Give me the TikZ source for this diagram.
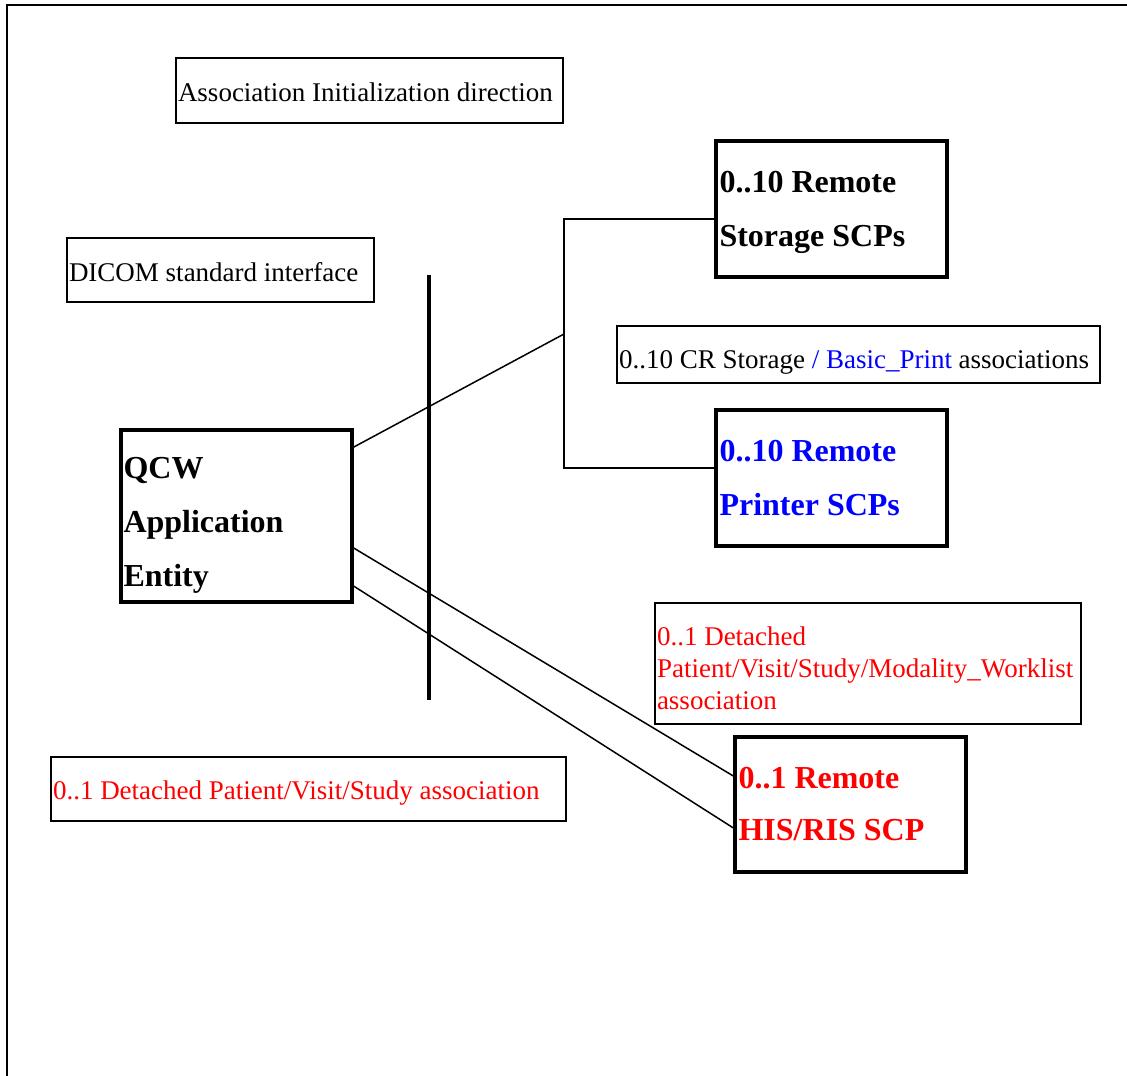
\documentclass[tikz,border=0pt]{standalone}
\usepackage{fontspec}
\setmainfont{Liberation Serif}
\definecolor{pureRed}{RGB}{255,0,0}
\definecolor{pureBlue}{RGB}{0,0,255}
\begin{document}
\begin{tikzpicture}[x=1pt,y=-1pt,
  thinbox/.style={draw, line width=1.5pt, inner sep=0pt, outer sep=0pt},
  thickbox/.style={draw, line width=4pt, inner sep=0pt, outer sep=0pt},
  smalltxt/.style={inner sep=0pt, outer sep=0pt, anchor=base west, align=left, font=\fontsize{27}{32}\selectfont},
  bigtxt/.style={inner sep=0pt, outer sep=0pt, anchor=base west, align=left, font=\fontsize{32}{54}\selectfont\bfseries},
  conn/.style={draw, line width=1.5pt},
  frameline/.style={draw, line width=2.4pt}]
\useasboundingbox (0,0) rectangle (1127,1076);

% outer frame
\coordinate (frTR) at (1127,5);
\coordinate (frTL) at (7,5);
\coordinate (frBL) at (7,1076);
\draw[frameline] (frTR) -- (frTL) -- (frBL);

% label boxes
\node[thinbox, minimum width=387pt, minimum height=65pt] (assocbox) at (369.5,90.5) {};
\node[smalltxt] (assoctext) at (178,101.5) {Association Initialization direction};

\node[thinbox, minimum width=307pt, minimum height=64pt] (dicombox) at (220.5,270) {};
\node[smalltxt] (dicomtext) at (69,281) {DICOM standard interface};

\node[thinbox, minimum width=483pt, minimum height=57pt] (crbox) at (858.5,354.5) {};
\node[smalltxt] (crtext) at (619,368) {0..10 CR Storage \textcolor{pureBlue}{/ Basic\_Print} associations};

\node[thinbox, minimum width=426pt, minimum height=121pt] (mwlbox) at (868,663.5) {};
\node[smalltxt, text=pureRed] (mwltext) at (657,709.3) {0..1 Detached\\Patient/Visit/Study/Modality\_Worklist\\association};

\node[thinbox, minimum width=515pt, minimum height=64pt] (pvsbox) at (308.5,789) {};
\node[smalltxt, text=pureRed] (pvstext) at (53,799.3) {0..1 Detached Patient/Visit/Study association};

% main entity boxes
\node[thickbox, minimum width=231pt, minimum height=172pt] (qcw) at (236.5,516) {};
\node[bigtxt] (qcwtext) at (123.5,586.7) {QCW\\Application\\Entity};

\node[thickbox, minimum width=231pt, minimum height=136pt] (store) at (831.5,209) {};
\node[bigtxt] (storetext) at (719.5,246) {0..10 Remote\\Storage SCPs};

\node[thickbox, minimum width=231pt, minimum height=136pt] (printer) at (831.5,478) {};
\node[bigtxt, text=pureBlue] (printertext) at (719.5,515) {0..10 Remote\\Printer SCPs};

\node[thickbox, minimum width=231pt, minimum height=135pt] (his) at (850.5,804.5) {};
\node[bigtxt, text=pureRed, font=\fontsize{32}{52}\selectfont\bfseries] (histext) at (738.5,840) {0..1 Remote\\HIS/RIS SCP};

% DICOM interface line
\coordinate (ifTop) at (429,275);
\coordinate (ifBot) at (429,700);
\draw[line width=4.5pt] (ifTop) -- (ifBot);

% connectors
\coordinate (jtop) at (564,219);
\coordinate (jmid) at (564,334);
\coordinate (jbot) at (564,468);
\draw[conn] ([yshift=-10pt]store.west) -- (jtop) -- (jbot) -- ([yshift=10pt]printer.west);
\draw[conn] ([yshift=-18pt]qcw.north east) -- (jmid);
\draw[conn] ([yshift=-117pt]qcw.north east) -- ([yshift=-40pt]his.north west);
\draw[conn] ([yshift=-155pt]qcw.north east) -- ([yshift=-92pt]his.north west);
\end{tikzpicture}
\end{document}
